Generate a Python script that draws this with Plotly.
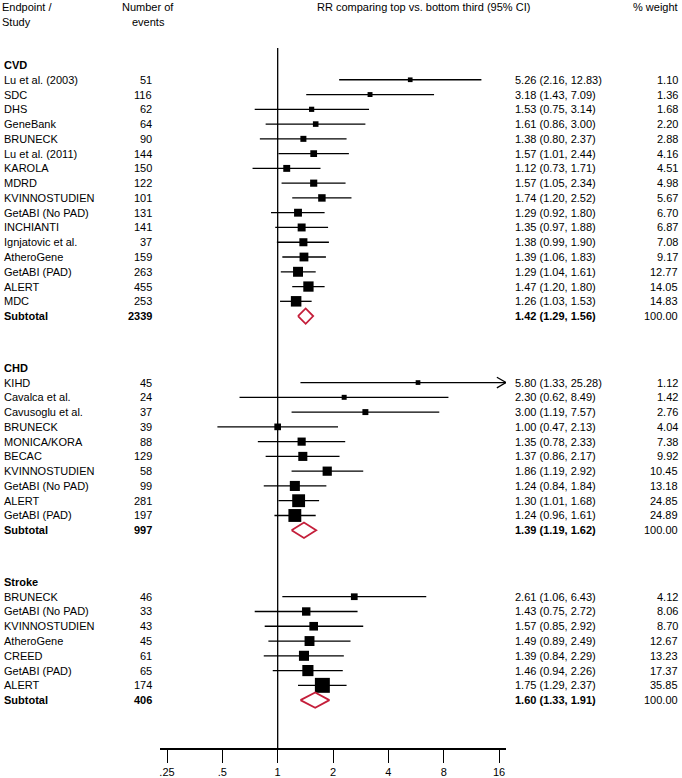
import math
import plotly.graph_objects as go

# ---------------- data ----------------
cvd_names = ["Lu et al. (2003)", "SDC", "DHS", "GeneBank", "BRUNECK", "Lu et al. (2011)", "KAROLA",
             "MDRD", "KVINNOSTUDIEN", "GetABI (No PAD)", "INCHIANTI", "Ignjatovic et al.",
             "AtheroGene", "GetABI (PAD)", "ALERT", "MDC"]
cvd_events = [51, 116, 62, 64, 90, 144, 150, 122, 101, 131, 141, 37, 159, 263, 455, 253]
cvd_rr = [5.26, 3.18, 1.53, 1.61, 1.38, 1.57, 1.12, 1.57, 1.74, 1.29, 1.35, 1.38, 1.39, 1.29, 1.47, 1.26]
cvd_lo = [2.16, 1.43, 0.75, 0.86, 0.80, 1.01, 0.73, 1.05, 1.20, 0.92, 0.97, 0.99, 1.06, 1.04, 1.20, 1.03]
cvd_hi = [12.83, 7.09, 3.14, 3.00, 2.37, 2.44, 1.71, 2.34, 2.52, 1.80, 1.88, 1.90, 1.83, 1.61, 1.80, 1.53]
cvd_wt = [1.10, 1.36, 1.68, 2.20, 2.88, 4.16, 4.51, 4.98, 5.67, 6.70, 6.87, 7.08, 9.17, 12.77, 14.05, 14.83]
cvd_total = [2339, 1.42, 1.29, 1.56, 100.00]

chd_names = ["KIHD", "Cavalca et al.", "Cavusoglu et al.", "BRUNECK", "MONICA/KORA", "BECAC",
             "KVINNOSTUDIEN", "GetABI (No PAD)", "ALERT", "GetABI (PAD)"]
chd_events = [45, 24, 37, 39, 88, 129, 58, 99, 281, 197]
chd_rr = [5.80, 2.30, 3.00, 1.00, 1.35, 1.37, 1.86, 1.24, 1.30, 1.24]
chd_lo = [1.33, 0.62, 1.19, 0.47, 0.78, 0.86, 1.19, 0.84, 1.01, 0.96]
chd_hi = [25.28, 8.49, 7.57, 2.13, 2.33, 2.17, 2.92, 1.84, 1.68, 1.61]
chd_wt = [1.12, 1.42, 2.76, 4.04, 7.38, 9.92, 10.45, 13.18, 24.85, 24.89]
chd_total = [997, 1.39, 1.19, 1.62, 100.00]

stroke_names = ["BRUNECK", "GetABI (No PAD)", "KVINNOSTUDIEN", "AtheroGene", "CREED", "GetABI (PAD)", "ALERT"]
stroke_events = [46, 33, 43, 45, 61, 65, 174]
stroke_rr = [2.61, 1.43, 1.57, 1.49, 1.39, 1.46, 1.75]
stroke_lo = [1.06, 0.75, 0.85, 0.89, 0.84, 0.94, 1.29]
stroke_hi = [6.43, 2.72, 2.92, 2.49, 2.29, 2.26, 2.37]
stroke_wt = [4.12, 8.06, 8.70, 12.67, 13.23, 17.37, 35.85]
stroke_total = [406, 1.60, 1.33, 1.91, 100.00]

tick_vals = [0.25, 0.5, 1, 2, 4, 8, 16]
tick_text = [".25", ".5", "1", "2", "4", "8", "16"]

sections = [
    ("CVD", cvd_names, cvd_events, cvd_rr, cvd_lo, cvd_hi, cvd_wt, cvd_total),
    ("CHD", chd_names, chd_events, chd_rr, chd_lo, chd_hi, chd_wt, chd_total),
    ("Stroke", stroke_names, stroke_events, stroke_rr, stroke_lo, stroke_hi, stroke_wt, stroke_total),
]

# ---------------- layout constants ----------------
W, H = 682, 778
FONT = "Liberation Sans, Arial, sans-serif"
PLOT_L, PLOT_R = 160, 506        # x-axis line extent (px)
PLOT_T, PLOT_B = 48, 748         # plot area top/bottom (px)
ROW_PX = 14.77
ROW0_PX = 65                     # pixel of first row
X_RANGE = [math.log10(0.229), math.log10(17.46)]
Y_RANGE = [(PLOT_B - ROW0_PX) / ROW_PX, (PLOT_T - ROW0_PX) / ROW_PX]
XMAX = 10 ** X_RANGE[1]
DIAMOND = "#C41E3A"

NAME_X, EVENTS_X, CI_X, WT_X = 2, 154, 513, 680

fig = go.Figure()
ann = []


def px_x(p):
    return p / W


def add_text(txt, xpx, y, anchor, bold=False):
    if bold:
        txt = "<b>" + txt + "</b>"
    ann.append(dict(text=txt, x=px_x(xpx), xref="paper", y=y, yref="y",
                    xanchor=anchor, yanchor="middle", showarrow=False,
                    font=dict(family=FONT, size=11, color="black")))


row = 0.0
for si, (title, names, events, rr, lo, hi, wt, total) in enumerate(sections):
    if si > 0:
        row += 3.5
    add_text(title, NAME_X, row, "left", bold=True)
    ci_x, ci_y = [], []
    arrows = []
    ys = []
    for i in range(len(names)):
        row += 1
        ys.append(row)
        add_text(names[i], NAME_X, row, "left")
        add_text(str(events[i]), EVENTS_X, row, "right")
        add_text(f"{rr[i]:.2f} ({lo[i]:.2f}, {hi[i]:.2f})", CI_X, row, "left")
        add_text(f"{wt[i]:.2f}", WT_X, row, "right")
        upper = min(hi[i], XMAX)
        ci_x += [lo[i], upper, None]
        ci_y += [row, row, None]
        if hi[i] > XMAX:
            arrows.append(row)
    fig.add_trace(go.Scatter(x=ci_x, y=ci_y, mode="lines", line=dict(color="black", width=1.3),
                             hoverinfo="skip", showlegend=False, cliponaxis=False))
    for ay in arrows:
        back = XMAX / 2 ** 0.165
        fig.add_trace(go.Scatter(x=[back, XMAX, back], y=[ay - 0.36, ay, ay + 0.36], mode="lines",
                                 line=dict(color="black", width=1.3), hoverinfo="skip",
                                 showlegend=False, cliponaxis=False))
    fig.add_trace(go.Scatter(x=rr, y=ys, mode="markers",
                             marker=dict(symbol="square", color="#000000", opacity=1,
                                         size=[2.5 + 2.08 * math.sqrt(w) for w in wt],
                                         line=dict(width=0)),
                             hoverinfo="skip", showlegend=False))
    # subtotal
    row += 1
    ev, p, plo, phi, pw = total
    add_text("Subtotal", NAME_X, row, "left", bold=True)
    add_text(str(ev), EVENTS_X, row, "right", bold=True)
    add_text(f"{p:.2f} ({plo:.2f}, {phi:.2f})", CI_X, row, "left", bold=True)
    add_text(f"{pw:.2f}", WT_X, row, "right")
    hh = 0.52
    fig.add_trace(go.Scatter(x=[plo, p, phi, p, plo], y=[row, row - hh, row, row + hh, row],
                             mode="lines", fill="toself", fillcolor="white",
                             line=dict(color=DIAMOND, width=1.8),
                             hoverinfo="skip", showlegend=False))

# reference line at RR = 1
fig.add_trace(go.Scatter(x=[1, 1], y=Y_RANGE, mode="lines", line=dict(color="black", width=1.3),
                         hoverinfo="skip", showlegend=False, cliponaxis=False))

# column headers (paper coordinates)
def hdr(txt, xpx, ypx, anchor):
    ann.append(dict(text=txt, x=px_x(xpx), xref="paper", y=1 - ypx / H, yref="paper",
                    xanchor=anchor, yanchor="middle", showarrow=False,
                    font=dict(family=FONT, size=11, color="black")))

hdr("Endpoint /", 0, 7, "left")
hdr("Study", 0, 22, "left")
hdr("Number of", 148, 7, "center")
hdr("events", 148, 22, "center")
hdr("RR comparing top vs. bottom third (95% CI)", 423, 7, "center")
hdr("% weight", 680, 7, "right")

fig.update_layout(
    template="none",
    width=W, height=H,
    margin=dict(l=0, r=0, t=0, b=0, pad=0),
    paper_bgcolor="white", plot_bgcolor="white",
    annotations=ann,
    xaxis=dict(type="log", range=X_RANGE, domain=[PLOT_L / W, PLOT_R / W],
               tickvals=tick_vals, ticktext=tick_text, ticks="outside", ticklen=13,
               tickwidth=1.3, tickcolor="black", showline=True, linecolor="black", linewidth=1.5,
               showgrid=False, zeroline=False,
               tickfont=dict(family=FONT, size=11, color="black")),
    yaxis=dict(range=Y_RANGE, domain=[(H - PLOT_B) / H, (H - PLOT_T) / H],
               visible=False, showgrid=False, zeroline=False),
    showlegend=False,
)

fig.write_html("out.html",
               config={"displayModeBar": False},
               post_script="document.body.style.margin='0';document.body.style.overflow='hidden';")
